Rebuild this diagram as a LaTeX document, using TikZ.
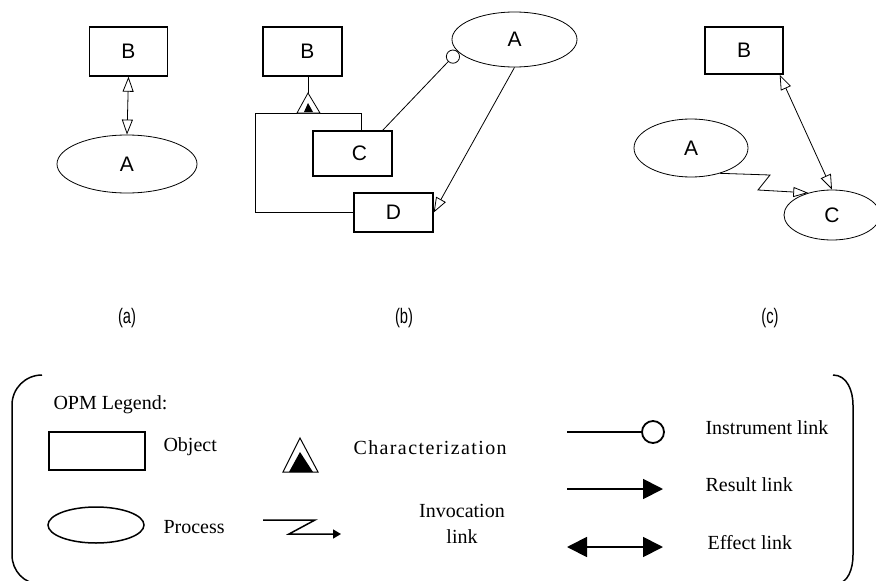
\documentclass[tikz,border=0pt]{standalone}
\usepackage{fontspec}
\setmainfont{Liberation Serif}
\newfontfamily\diafont{Liberation Sans}
\newfontfamily\capfont[FakeStretch=0.7]{Liberation Sans}
\newfontfamily\spacedfont[LetterSpace=7]{Liberation Serif}
\usetikzlibrary{arrows.meta,shapes.geometric}
\tikzset{
  obj/.style={draw,line width=1.4pt,minimum width=#1,inner sep=0pt,font=\diafont\fontsize{21}{23}\selectfont},
  proc/.style={draw,ellipse,line width=0.8pt,inner sep=0pt,font=\diafont\fontsize{21}{23}\selectfont},
  hollow/.tip={Triangle[open,length=15pt,width=11pt]},
  lnk/.style={line width=0.8pt},
  sublabel/.style={font=\capfont\fontsize{21}{23}\selectfont},
  leg/.style={font=\fontsize{20}{26}\selectfont},
  legline/.style={line width=1.8pt},
  bigtip/.tip={Triangle[length=20pt,width=20pt]}
}
\begin{document}
\begin{tikzpicture}[x=1pt,y=-1pt]
\useasboundingbox (0,0) rectangle (876,581);
% ---------- panel (a)
\node[obj=78pt,minimum height=49pt] (Ba) at (128.5,51.5) {B};
\node[proc,minimum width=140pt,minimum height=58pt] (Aa) at (127,164) {A};
\draw[lnk,hollow-hollow] (Ba.south) -- (Aa.north);
\node[sublabel] (la) at (127,318) {(a)};
% ---------- panel (b)
\node[obj=79pt,minimum height=49pt] (Bb) at (302.5,51.5) {\hspace*{10pt}B};
\node[obj=79pt,minimum height=45pt] (Cb) at (352.5,153.5) {\hspace*{14pt}C};
\node[obj=79pt,minimum height=39pt] (Db) at (393.5,212.5) {D};
\node[proc,minimum width=125pt,minimum height=55pt] (Ab) at (514.5,39.5) {A};
\coordinate (tri) at (308,93);
\coordinate (brl) at (255,113);
\coordinate (brr) at (361,113);
\draw[lnk] (Bb.south -| tri) -- (tri);
\draw[lnk] (Cb.north -| brr) |- (brl) |- (Db.west);
\draw[lnk,fill=white] (297,113) -- (tri) -- (320,113) -- cycle;
\fill (304,112) -- (308,103) -- (313,112) -- cycle;
\draw[lnk,-{Circle[open,length=14pt]}] ([xshift=-10pt]Cb.north east) -- (Ab.192.7);
\draw[lnk,-hollow] (Ab.south) -- (Db.east);
\node[sublabel] (lb) at (404,318) {(b)};
% ---------- panel (c)
\node[obj=78pt,minimum height=47pt] (Bc) at (744,50.5) {B};
\node[proc,minimum width=114pt,minimum height=58pt] (Ac) at (691,148) {A};
\node[proc,minimum width=96pt,minimum height=50pt] (Cc) at (832,215) {C};
\draw[lnk,hollow-hollow] ([xshift=-4pt]Bc.south east) -- (Cc.north);
\coordinate (z1) at (770,175);
\coordinate (z2) at (758,190);
\draw[lnk,-{Triangle[open,length=15pt,width=10pt]}] (Ac.-41) -- (z1) -- (z2) -- (Cc.137);
\node[sublabel] (lc) at (770,318) {(c)};
% ---------- legend frame
\draw[line width=1.5pt] (42,375) to[out=180,in=90] (12,405) -- (12,555) to[out=-90,in=180] (40,584);
\draw[line width=1.5pt] (833,375) to[out=0,in=90] (853,405) -- (853,555) to[out=-90,in=0] (835,584);
% legend contents
\node[leg,anchor=west] (lt) at (50,405) {OPM Legend:};
\node[draw,line width=1.8pt,minimum width=96pt,minimum height=38pt] (lobj) at (97,451) {};
\node[leg,anchor=west] (tobj) at (160,447) {Object};
\node[draw,ellipse,line width=1.5pt,minimum width=96pt,minimum height=36pt] (lproc) at (96,525) {};
\node[leg,anchor=west] (tproc) at (160,527) {Process};
\draw[line width=1pt] (283,472) -- (300,438) -- (318,472) -- cycle;
\fill (289,472) -- (300,452) -- (313,472) -- cycle;
\node[leg,anchor=west] (tchar) at (350,448) {\spacedfont Characterization};
\coordinate (i0) at (263,520);
\coordinate (i1) at (315,520);
\coordinate (i2) at (289,534);
\coordinate (i3) at (341,534);
\draw[line width=1.5pt,-{Triangle[length=8pt,width=9pt]}] (i0) -- (i1) -- (i2) -- (i3);
\node[leg,align=center] (tinv) at (462,524) {Invocation\\link};
\node[circle,draw,line width=1.8pt,minimum size=22pt,inner sep=0pt] (icirc) at (653,432) {};
\coordinate (ist) at (567,432);
\draw[legline] (ist) -- (icirc.west);
\node[leg,anchor=west] (tinst) at (702,428) {Instrument link};
\coordinate (rs) at (567,489);
\coordinate (re) at (663,489);
\draw[legline,-bigtip] (rs) -- (re);
\node[leg,anchor=west] (tres) at (702,485) {Result link};
\coordinate (es) at (567,547);
\coordinate (ee) at (663,547);
\draw[legline,bigtip-bigtip] (es) -- (ee);
\node[leg,anchor=west] (teff) at (704,543) {Effect link};
\end{tikzpicture}
\end{document}
